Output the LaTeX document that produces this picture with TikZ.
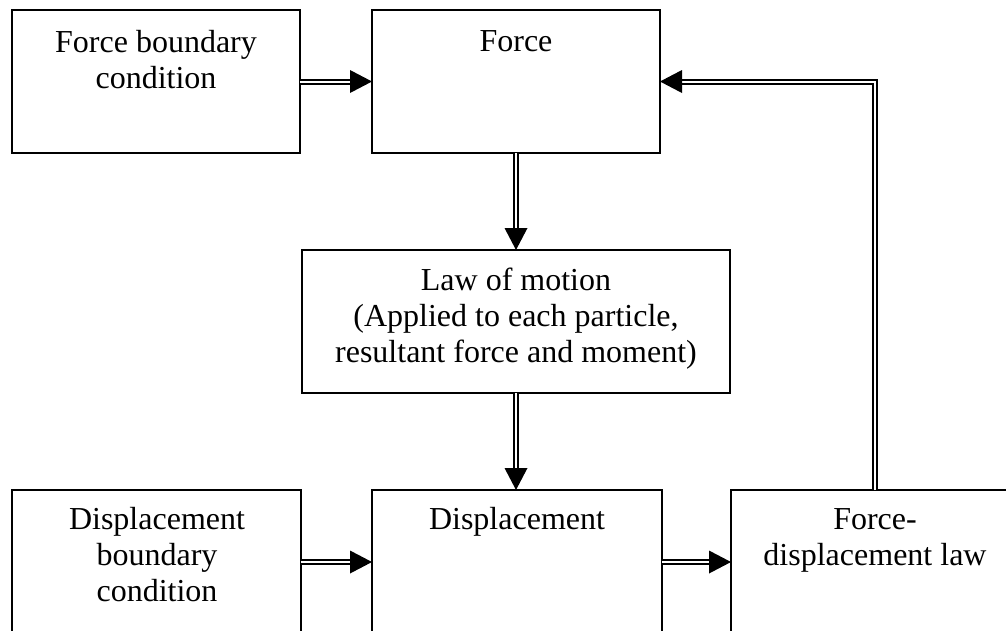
\documentclass[tikz,border=0pt]{standalone}
\usepackage{fontspec}
\setmainfont{Liberation Serif}
\usetikzlibrary{arrows.meta}
\begin{document}
\begin{tikzpicture}[x=1pt,y=-1pt,
  box/.style={draw, line width=2pt, inner sep=0pt, outer sep=0pt},
  lbl/.style={anchor=north, inner sep=0pt, align=center, font=\fontsize{32}{36}\selectfont},
  dbl/.style={double, line width=2pt, double distance=2pt,
    -{Triangle[length=22pt,width=23pt,line width=0pt]}}]
\useasboundingbox (0,0) rectangle (1006,630);
\clip (0,0) rectangle (1006,630);
% boxes
\node[box, minimum width=288pt, minimum height=143pt] (fbc) at (156,81.5) {};
\node[box, minimum width=288pt, minimum height=143pt] (force) at (516,81.5) {};
\node[box, minimum width=428pt, minimum height=143pt] (lom) at (516,321.5) {};
\node[box, minimum width=289pt, minimum height=144pt] (dbc) at (156.5,562) {};
\node[box, minimum width=290pt, minimum height=144pt] (disp) at (517,562) {};
\node[box, minimum width=288pt, minimum height=144pt] (fdl) at (875,562) {};
% texts
\node[lbl] (fbct) at (156,30) {Force boundary\\condition};
\node[lbl] (forcet) at (516,30) {Force};
\node[lbl] (lomt) at (516,268) {Law of motion\\(Applied to each particle,\\resultant force and moment)};
\node[lbl] (dbct) at (157,507) {Displacement\\boundary\\condition};
\node[lbl] (dispt) at (517,507) {Displacement};
\node[lbl] (fdlt) at (875,508) {Force-\\displacement law};
% connectors
\draw[dbl] (fbc.east) -- (force.west);
\draw[dbl] (force.south) -- (lom.north);
\draw[dbl] (lom.south) -- (lom.south |- disp.north);
\draw[dbl] (dbc.east) -- (disp.west);
\draw[dbl] (disp.east) -- (fdl.west);
\draw[dbl] (fdl.north) |- (force.east);
\end{tikzpicture}
\end{document}
